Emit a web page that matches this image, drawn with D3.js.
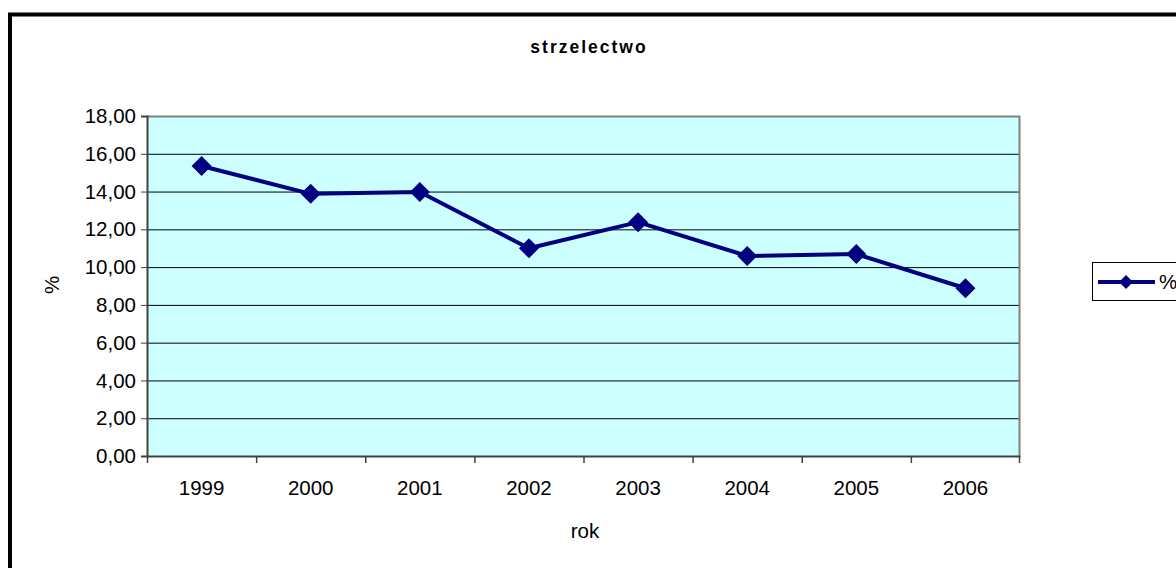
<!DOCTYPE html>
<html><head><meta charset="utf-8">
<script src="https://cdn.jsdelivr.net/npm/d3@7"></script>
<style>body{margin:0;background:#fff}svg{display:block;font-family:"Liberation Sans",Arial,sans-serif}</style>
</head><body><svg id="c" width="1176" height="568"></svg>
<script>
const categories = ["1999","2000","2001","2002","2003","2004","2005","2006"];
const values = [15.35, 13.88, 13.98, 11.0, 12.38, 10.59, 10.69, 8.88];
const yTicks = [0,2,4,6,8,10,12,14,16,18];
const seriesName = "%";
const title = "strzelectwo";
const xTitle = "rok";
const yTitle = "%";

const svg = d3.select("#c");
const L=147, T=116, R=1020, B=456;
const navy = "#000080";
const FS = 20.5;

// outer frame
svg.append("rect").attr("x",10).attr("y",14.5).attr("width",1200).attr("height",600)
  .attr("fill","#fff").attr("stroke","#000").attr("stroke-width",4);

const x = d3.scaleBand().domain(categories).range([L,R]).padding(0);
const y = d3.scaleLinear().domain([0,18]).range([B,T]);

svg.append("rect").attr("x",L).attr("y",T).attr("width",R-L).attr("height",B-T).attr("fill","#CCFFFF");

// gridlines
svg.append("g").selectAll("line").data(yTicks.filter(d=>d>0&&d<18)).join("line")
  .attr("x1",L).attr("x2",R).attr("y1",d=>y(d)+0.5).attr("y2",d=>y(d)+0.5)
  .attr("stroke","#000").attr("stroke-width",1);

// plot border top/right grey
svg.append("path").attr("d",`M${L},${T+0.5}H${R-0.5}V${B}`).attr("fill","none").attr("stroke","#808080").attr("stroke-width",2);

// y axis
const yAxis = d3.axisLeft(y).tickValues(yTicks).tickSize(6).tickPadding(5)
  .tickFormat(d=>d3.format(".2f")(d).replace(".",","));
const gy = svg.append("g").attr("transform",`translate(${L},0)`).call(yAxis);
gy.select(".domain").attr("stroke","#404040").attr("stroke-width",2);
gy.selectAll(".tick line").attr("stroke","#404040");
gy.selectAll("text").attr("font-size",FS).attr("fill","#000").attr("font-family","Liberation Sans, Arial, sans-serif");

// x axis
const xAxis = d3.axisBottom(x).tickSize(0).tickPadding(24);
const gx = svg.append("g").attr("transform",`translate(0,${B})`).call(xAxis);
gx.select(".domain").attr("stroke","#404040").attr("stroke-width",2);
gx.selectAll("text").attr("font-size",FS).attr("fill","#000").attr("font-family","Liberation Sans, Arial, sans-serif");
// category boundary ticks
svg.append("g").selectAll("line").data(categories.concat(["__end"])).join("line")
  .attr("x1",(d,i)=> i<categories.length ? x(d)+0.5 : R-0.5)
  .attr("x2",(d,i)=> i<categories.length ? x(d)+0.5 : R-0.5)
  .attr("y1",B).attr("y2",B+7).attr("stroke","#404040").attr("stroke-width",1.5);

// line
const line = d3.line().x((d,i)=>x(categories[i])+x.bandwidth()/2).y(d=>y(d));
svg.append("path").datum(values).attr("d",line).attr("fill","none").attr("stroke",navy).attr("stroke-width",4).attr("stroke-linejoin","round");
svg.append("g").selectAll("path").data(values).join("path")
  .attr("transform",(d,i)=>`translate(${x(categories[i])+x.bandwidth()/2},${y(d)})`)
  .attr("d","M0,-10L10,0L0,10L-10,0Z").attr("fill",navy);

// titles
svg.append("text").attr("x",589).attr("y",53).attr("text-anchor","middle").attr("font-size",17.5).attr("font-weight","bold").attr("letter-spacing",2).text(title);
svg.append("text").attr("x",585).attr("y",538).attr("text-anchor","middle").attr("font-size",FS).text(xTitle);
svg.append("text").attr("transform","translate(59,285) rotate(-90)").attr("text-anchor","middle").attr("font-size",FS).text(yTitle);

// legend
const lg = svg.append("g");
lg.append("rect").attr("x",1092.5).attr("y",262.5).attr("width",120).attr("height",38).attr("fill","#fff").attr("stroke","#000").attr("stroke-width",1);
lg.append("line").attr("x1",1098).attr("x2",1155).attr("y1",282).attr("y2",282).attr("stroke",navy).attr("stroke-width",4);
lg.append("path").attr("transform","translate(1126,282)").attr("d","M0,-7L7,0L0,7L-7,0Z").attr("fill",navy);
lg.append("text").attr("x",1159).attr("y",289).attr("font-size",FS).text(seriesName);
</script></body></html>
